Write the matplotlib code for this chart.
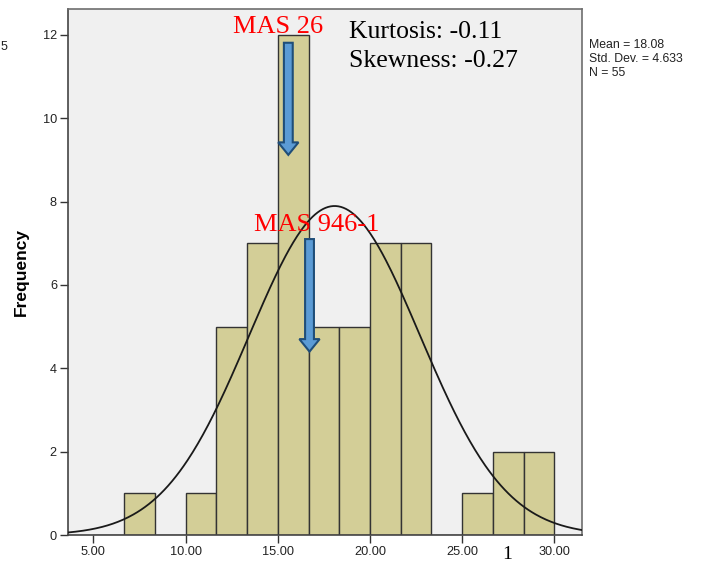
import numpy as np
import matplotlib
matplotlib.use("Agg")
import matplotlib.pyplot as plt

# Histogram bins (width 5/3) and frequency per bin
bin_edges = [5.0, 6.6667, 8.3333, 10.0, 11.6667, 13.3333, 15.0, 16.6667,
             18.3333, 20.0, 21.6667, 23.3333, 25.0, 26.6667, 28.3333, 30.0]
counts = [0, 1, 0, 1, 5, 7, 12, 5, 5, 7, 7, 0, 1, 2, 2]

# Summary statistics
mean_val = 18.08
std_val = 4.633
n_obs = 55
kurtosis_val = -0.11
skewness_val = -0.27

x_ticks = [5, 10, 15, 20, 25, 30]
x_tick_labels = ["5.00", "10.00", "15.00", "20.00", "25.00", "30.00"]
y_ticks = [0, 2, 4, 6, 8, 10, 12]

# Annotated accessions: label, arrow x, arrow start y, arrow end y
marker_labels = ["MAS 26", "MAS 946-1"]
marker_x = [15.57, 16.72]
marker_y_start = [11.81, 7.10]
marker_y_end = [9.12, 4.40]

W, H = 711, 562
fig = plt.figure(figsize=(W / 100, H / 100), dpi=100)
ax = fig.add_axes([68 / W, 1 - 535 / H, (582 - 68) / W, (535 - 9) / H])
ax.set_facecolor("#F0F0F0")

edges = np.array(bin_edges)
widths = np.diff(edges)
ax.bar(edges[:-1], counts, width=widths, align="edge",
       color="#D3CE97", edgecolor="#333333", linewidth=1.0, zorder=2)

# Fitted normal curve scaled to counts
bw = widths.mean()
xs = np.linspace(3.6, 31.5, 400)
pdf = np.exp(-0.5 * ((xs - mean_val) / std_val) ** 2) / (std_val * np.sqrt(2 * np.pi))
ax.plot(xs, n_obs * bw * pdf, color="#1a1a1a", lw=1.3, zorder=3)

ax.set_xlim(3.62, 31.5)
ax.set_ylim(0, 12.62)
ax.set_xticks(x_ticks)
ax.set_xticklabels(x_tick_labels)
ax.set_yticks(y_ticks)
ax.tick_params(axis="both", direction="out", length=6, width=1.0,
               color="#333333", labelsize=9.2, labelcolor="#222222", pad=2)
for side in ["left", "bottom", "top", "right"]:
    ax.spines[side].set_color("#6e6e6e")
    ax.spines[side].set_linewidth(1.2)
ax.spines["left"].set_color("#444444")
ax.spines["bottom"].set_color("#444444")

ax.set_ylabel("Frequency", fontsize=12.5, fontweight="bold",
              fontfamily="Liberation Sans", labelpad=10)
for lab in ax.get_xticklabels() + ax.get_yticklabels():
    lab.set_fontfamily("Liberation Sans")

# Arrows and red labels for the marked accessions
text_pos = [(15.02, 12.05), (17.10, 7.30)]
for lab, x0, y0, y1, (tx, ty) in zip(marker_labels, marker_x, marker_y_start,
                                      marker_y_end, text_pos):
    ax.arrow(x0, y0, 0, y1 - y0, width=0.48, head_width=1.1, head_length=0.3,
             length_includes_head=True, facecolor="#5B9BD5",
             edgecolor="#1F4E79", linewidth=1.5, zorder=5)
    ax.text(tx, ty, lab, color="red", fontsize=19, fontfamily="Liberation Serif",
            ha="center", va="baseline", zorder=6, clip_on=False)

ax.text(18.86, 11.93, f"Kurtosis: {kurtosis_val:.2f}", fontsize=18.5,
        fontfamily="Liberation Serif", color="black", va="baseline", zorder=6)
ax.text(18.86, 11.24, f"Skewness: {skewness_val:.2f}", fontsize=18.5,
        fontfamily="Liberation Serif", color="black", va="baseline", zorder=6)

fig.text(589 / W, 1 - 39 / H,
         f"Mean = {mean_val:.2f}\nStd. Dev. = {std_val:.3f}\nN = {n_obs}",
         fontsize=8.8, fontfamily="Liberation Sans", color="#222222",
         va="top", ha="left", linespacing=1.2)

fig.text(0.5 / W, 1 - 47 / H, "5", fontsize=9, fontfamily="Liberation Sans",
         color="#222222", ha="left", va="center")
fig.text(507 / W, 1 - 546 / H, "1", fontsize=14, fontfamily="Liberation Serif",
         color="black", ha="center", va="top")

fig.savefig("out.png", dpi=100, facecolor="white")
